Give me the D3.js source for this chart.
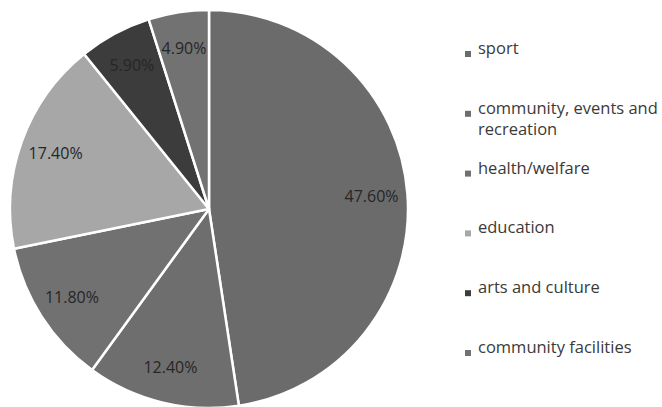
<!DOCTYPE html>
<html>
<head>
<meta charset="utf-8">
<script src="https://cdn.jsdelivr.net/npm/d3@7"></script>
<style>
  html, body { margin: 0; padding: 0; background: #ffffff; }
  svg { display: block; }
  text { font-family: "Open Sans", "DejaVu Sans", sans-serif; }
</style>
</head>
<body>
<svg id="chart" width="662" height="407"></svg>
<script>
// Share of funding by category (percent), clockwise from 12 o'clock
const categories = ["sport", "community, events and recreation", "health/welfare", "education", "arts and culture", "community facilities"];
const shares = [47.6, 12.4, 11.8, 17.4, 5.9, 4.9];
const sliceColors = ["#6b6b6b", "#6e6e6e", "#717171", "#a7a7a7", "#3c3c3c", "#727272"];

const svg = d3.select("#chart");
const cx = 209, cy = 209, radius = 199;

const data = categories.map((c, i) => ({ name: c, value: shares[i], color: sliceColors[i] }));

const pie = d3.pie().value(d => d.value).sort(null);
const arcs = pie(data);

const arc = d3.arc().innerRadius(0).outerRadius(radius);
const labelArc = d3.arc().innerRadius(163).outerRadius(163);

const g = svg.append("g").attr("transform", `translate(${cx},${cy})`);

g.selectAll("path.slice")
  .data(arcs)
  .join("path")
  .attr("class", "slice")
  .attr("d", arc)
  .attr("fill", d => d.data.color)
  .attr("stroke", "#ffffff")
  .attr("stroke-width", 2.5)
  .attr("stroke-linejoin", "round");

g.selectAll("text.pct")
  .data(arcs)
  .join("text")
  .attr("class", "pct")
  .attr("transform", d => `translate(${labelArc.centroid(d)})`)
  .attr("text-anchor", "middle")
  .attr("dy", "0.35em")
  .attr("font-size", 16)
  .attr("fill", "#262626")
  .text(d => d.data.value.toFixed(2) + "%");

// Legend
const legend = svg.append("g").attr("transform", "translate(465,0)");
const legendY = d3.scalePoint().domain(categories).range([54, 353]);
const maxWidth = 192;

const items = legend.selectAll("g.item")
  .data(data)
  .join("g")
  .attr("class", "item")
  .attr("transform", d => `translate(0,${legendY(d.name)})`);

items.append("rect")
  .attr("x", 0).attr("y", -3)
  .attr("width", 6).attr("height", 6)
  .attr("fill", d => d.color);

items.append("text")
  .attr("x", 13)
  .attr("dy", "0.35em")
  .attr("font-size", 16.5)
  .attr("fill", "#3a3a3a")
  .each(function(d) {
    const t = d3.select(this);
    const words = d.name.split(" ");
    let line = [];
    let tspan = t.append("tspan").attr("x", 13).attr("dy", 0);
    words.forEach(w => {
      line.push(w);
      tspan.text(line.join(" "));
      if (tspan.node().getComputedTextLength() > maxWidth && line.length > 1) {
        line.pop();
        tspan.text(line.join(" "));
        line = [w];
        tspan = t.append("tspan").attr("x", 13).attr("dy", 21).text(w);
      }
    });
  });
</script>
</body>
</html>
